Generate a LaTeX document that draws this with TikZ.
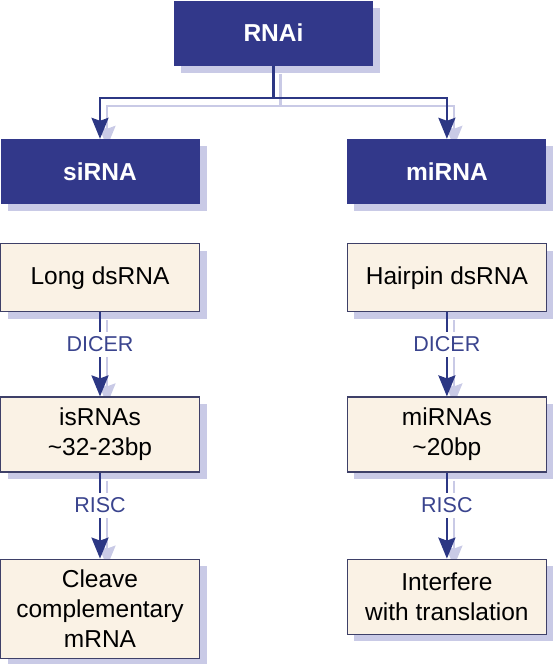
\documentclass[tikz,border=0pt]{standalone}
\usepackage{fontspec}
\setmainfont{Liberation Sans}
\usetikzlibrary{positioning, calc, arrows.meta, shadows, backgrounds}
\definecolor{rnanavy}{RGB}{50,56,138}
\definecolor{rnaline}{RGB}{44,55,132}
\definecolor{rnalabel}{RGB}{58,68,142}
\definecolor{boxedge}{RGB}{62,64,104}
\definecolor{boxfill}{RGB}{250,242,229}
\definecolor{shadowlav}{RGB}{201,202,230}
\tikzset{
  headbox/.style={
    rectangle, fill=rnanavy, text=white,
    minimum width=199pt, minimum height=65pt,
    font=\fontsize{24.5}{30}\selectfont\bfseries,
    drop shadow={shadow xshift=7pt, shadow yshift=-7pt, fill=shadowlav, opacity=1}
  },
  stepbox/.style={
    rectangle, draw=boxedge, line width=1.2pt, fill=boxfill,
    minimum width=199pt, align=center, inner sep=4pt,
    font=\fontsize{24.5}{30}\selectfont,
    drop shadow={shadow xshift=7pt, shadow yshift=-7pt, fill=shadowlav, opacity=1}
  },
  arrow/.style={line width=2.4pt, draw=rnaline,
    -{Stealth[length=21pt, width=17pt, inset=3pt]}},
  shadowline/.style={line width=2.4pt, draw=shadowlav,
    -{Stealth[length=21pt, width=17pt, inset=3pt]},
    transform canvas={shift={(7pt,-8pt)}}},
  steplabel/.style={fill=white, text=rnalabel, inner sep=5pt, pos=0.38,
    font=\fontsize{21.5}{26}\selectfont},
}
\begin{document}
\begin{tikzpicture}
  \useasboundingbox (0,0) rectangle (554pt,-664pt);

  % headers
  \node (sirna) [headbox] at (100pt,-171.5pt) {siRNA};
  \node (mirna) [headbox, right=147.5pt of sirna] {miRNA};
  \coordinate (mid) at ($(sirna.north)!0.5!(mirna.north)$);
  \node (rnai)  [headbox, above=73pt of mid] {RNAi};

  % left column
  \node (longds) [stepbox, minimum height=68pt, below=39pt of sirna] {Long dsRNA};
  \node (isrnas) [stepbox, minimum height=75pt, below=84pt of longds] {isRNAs\\\textasciitilde32-23bp};
  \node (cleave) [stepbox, minimum height=99pt, below=86pt of isrnas] {Cleave\\complementary\\mRNA};

  % right column
  \node (hairpin)   [stepbox, minimum height=68pt, below=39pt of mirna] {Hairpin dsRNA};
  \node (mirnas)    [stepbox, minimum height=75pt, below=84pt of hairpin] {miRNAs\\\textasciitilde20bp};
  \node (interfere) [stepbox, minimum height=75pt, below=86pt of mirnas] {Interfere\\with translation};

  \coordinate (split) at ($(rnai.south)+(0,-32pt)$);

  % connector shadows
  \begin{scope}[on background layer]
    \draw [shadowline] (rnai.south) -- (split) -| (sirna.north);
    \draw [shadowline] (split) -| (mirna.north);
    \foreach \a/\b in {longds/isrnas, isrnas/cleave, hairpin/mirnas, mirnas/interfere}
      \draw [shadowline] (\a) -- (\b);
  \end{scope}

  \draw [arrow] (rnai.south) -- (split) -| (sirna.north);
  \draw [arrow] (split) -| (mirna.north);
  \draw [arrow] (longds)  -- node[steplabel]{DICER} (isrnas);
  \draw [arrow] (isrnas)  -- node[steplabel]{RISC} (cleave);
  \draw [arrow] (hairpin) -- node[steplabel]{DICER} (mirnas);
  \draw [arrow] (mirnas)  -- node[steplabel]{RISC} (interfere);
\end{tikzpicture}
\end{document}
